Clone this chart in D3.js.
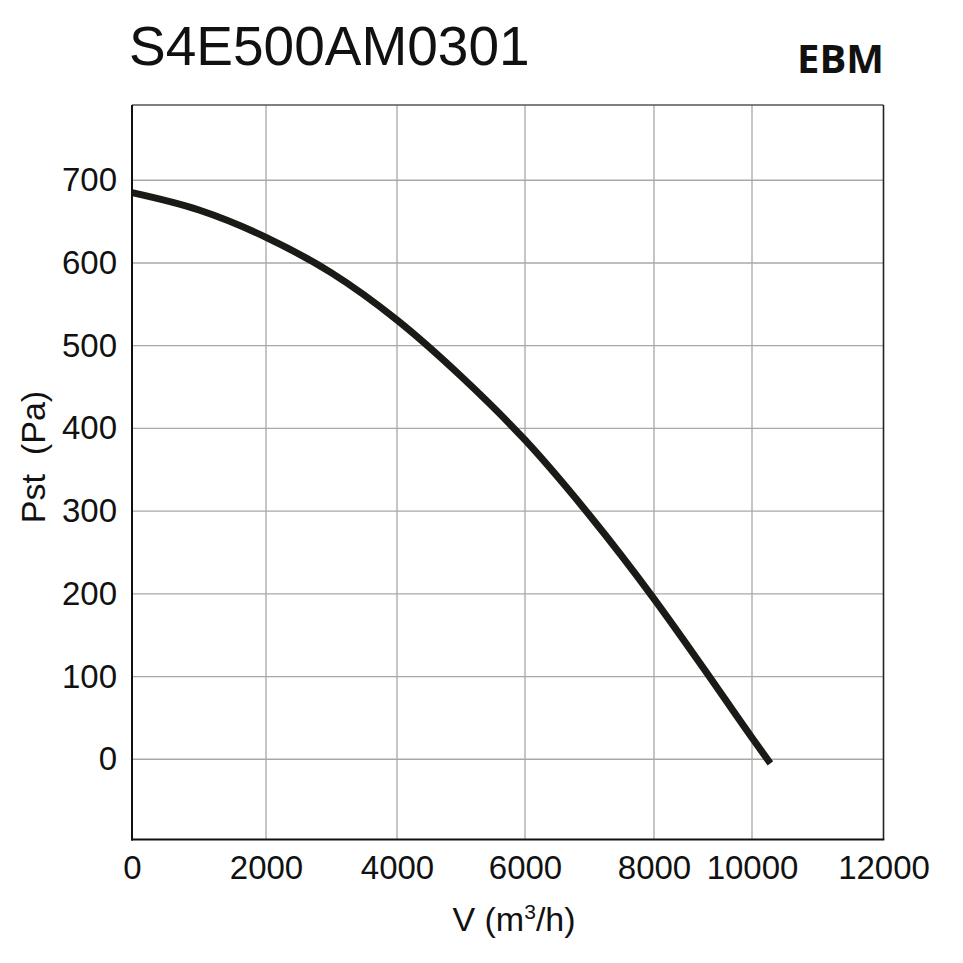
<!DOCTYPE html>
<html>
<head>
    <title>S4E500AM0301</title>
    <script src="https://cdnjs.cloudflare.com/ajax/libs/d3/7.8.5/d3.min.js"></script>
    <style>
        body { margin: 0; background: #fff; }
        text { font-family: "Liberation Sans", Arial, sans-serif; fill: #111; }
    </style>
</head>
<body>
<div id="chart"></div>
<script>

    // fan curve
    var flowValues = [0, 1000, 2000, 3000, 4000, 5000, 6000, 7000, 8000, 9000, 10000, 10280];
    var pressureValues = [685, 664, 631, 588, 531, 463, 386, 295, 194, 111, 26, -5];

    var xTicks = [0, 2000, 4000, 6000, 8000, 10000, 12000];
    var yTicks = [0, 100, 200, 300, 400, 500, 600, 700];

    // (window.top is read-only, so no bare "top" here)
    var plotLeft = 132, plotRight = 883.5, plotTop = 105, plotBottom = 839.5;

    var svg = d3.select("#chart").append("svg")
        .attr("width", 963)
        .attr("height", 963);

    // the grid on the sheet is not evenly spaced, so x is piecewise
    var x = d3.scaleLinear()
        .domain(xTicks)
        .range([132, 266, 397, 525, 654, 752, 883.5]);

    var y = d3.scaleLinear()
        .domain([-97, 791])
        .range([plotBottom, plotTop]);

    // grid
    svg.append("g")
        .selectAll("line")
        .data(xTicks.slice(1, -1))
        .enter().append("line")
        .attr("x1", function(d) { return x(d); })
        .attr("x2", function(d) { return x(d); })
        .attr("y1", plotTop)
        .attr("y2", plotBottom)
        .attr("stroke", "#a8a8a8")
        .attr("stroke-width", 1.3);

    svg.append("g")
        .selectAll("line")
        .data(yTicks)
        .enter().append("line")
        .attr("x1", plotLeft)
        .attr("x2", plotRight)
        .attr("y1", function(d) { return y(d); })
        .attr("y2", function(d) { return y(d); })
        .attr("stroke", "#a8a8a8")
        .attr("stroke-width", 1.3);

    // frame
    svg.append("line").attr("x1", plotLeft).attr("x2", plotRight).attr("y1", plotTop).attr("y2", plotTop)
        .attr("stroke", "#555").attr("stroke-width", 1.5);
    svg.append("line").attr("x1", plotRight).attr("x2", plotRight).attr("y1", plotTop).attr("y2", plotBottom)
        .attr("stroke", "#222").attr("stroke-width", 1.6);

    // tick labels through d3 axes, no tick marks
    var xAxis = svg.append("g")
        .attr("transform", "translate(0," + plotBottom + ")")
        .call(d3.axisBottom(x).tickValues(xTicks).tickSize(0).tickPadding(16).tickFormat(d3.format("d")));
    xAxis.select(".domain").remove();
    xAxis.selectAll("text")
        .attr("font-family", "Liberation Sans, Arial, sans-serif")
        .attr("font-size", "33px")
        .attr("fill", "#111");

    var yAxis = svg.append("g")
        .attr("transform", "translate(" + plotLeft + ",0)")
        .call(d3.axisLeft(y).tickValues(yTicks).tickSize(0).tickPadding(15).tickFormat(d3.format("d")));
    yAxis.select(".domain").remove();
    yAxis.selectAll("text")
        .attr("font-family", "Liberation Sans, Arial, sans-serif")
        .attr("font-size", "33px")
        .attr("fill", "#111");

    // curve
    var points = flowValues.map(function(v, i) { return [v, pressureValues[i]]; });
    var line = d3.line()
        .x(function(d) { return x(d[0]); })
        .y(function(d) { return y(d[1]); })
        .curve(d3.curveMonotoneX);

    svg.append("path")
        .datum(points)
        .attr("d", line)
        .attr("fill", "none")
        .attr("stroke", "#1b1a16")
        .attr("stroke-width", 7);

    // left / bottom axis lines on top
    svg.append("line").attr("x1", plotLeft).attr("x2", plotLeft).attr("y1", plotTop).attr("y2", plotBottom + 1)
        .attr("stroke", "#111").attr("stroke-width", 2);
    svg.append("line").attr("x1", plotLeft - 1).attr("x2", plotRight + 0.8).attr("y1", plotBottom).attr("y2", plotBottom)
        .attr("stroke", "#111").attr("stroke-width", 2.2);

    // titles
    svg.append("text")
        .attr("x", 129)
        .attr("y", 65)
        .attr("font-size", "55px")
        .text("S4E500AM0301");

    svg.append("text")
        .attr("x", 884)
        .attr("y", 73)
        .attr("text-anchor", "end")
        .attr("font-size", "40px")
        .attr("font-weight", "bold")
        .style("font-family", "'Open Sans', sans-serif")
        .text("EBM");

    var xLabel = svg.append("text")
        .attr("x", 514)
        .attr("y", 931)
        .attr("text-anchor", "middle")
        .attr("font-size", "34px");
    xLabel.append("tspan").text("V (m");
    xLabel.append("tspan").attr("dy", -12).attr("font-size", "21px").text("3");
    xLabel.append("tspan").attr("dy", 12).text("/h)");

    svg.append("text")
        .attr("transform", "translate(45,457) rotate(-90)")
        .attr("text-anchor", "middle")
        .attr("font-size", "34px")
        .style("white-space", "pre")
        .text("Pst  (Pa)");

</script>
</body>
</html>
